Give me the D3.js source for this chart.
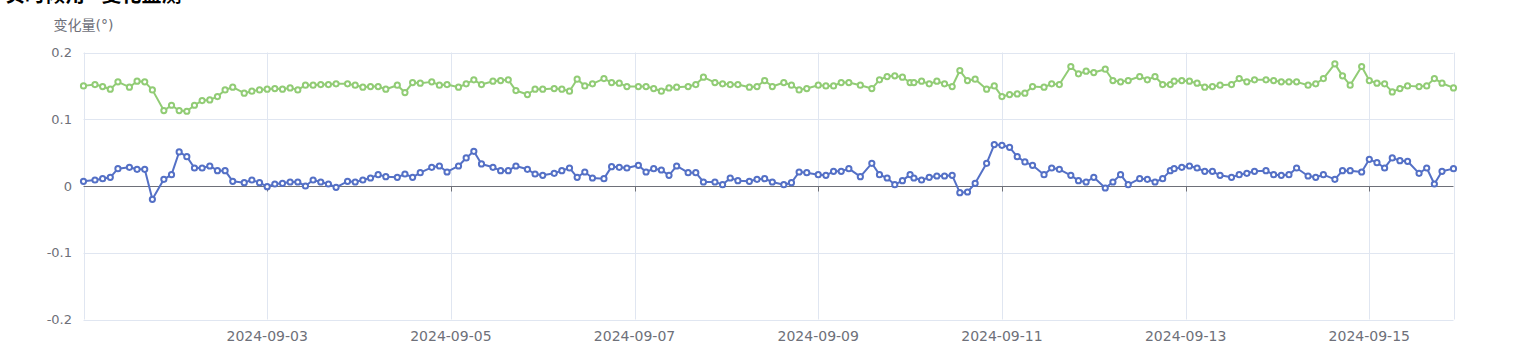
<!DOCTYPE html>
<html><head><meta charset="utf-8">
<script src="https://cdn.jsdelivr.net/npm/d3@7/dist/d3.min.js"></script>
<style>html,body{margin:0;padding:0;background:#fff;overflow:hidden}</style>
</head><body><svg id="c" width="1513" height="351"></svg>
<script>
const times = [
"2024-09-01 00:00","2024-09-01 03:00","2024-09-01 05:00","2024-09-01 07:00","2024-09-01 09:00","2024-09-01 12:00","2024-09-01 14:00","2024-09-01 16:00","2024-09-01 18:00","2024-09-01 21:00","2024-09-01 23:00","2024-09-02 01:00","2024-09-02 03:00","2024-09-02 05:00","2024-09-02 07:00","2024-09-02 09:00","2024-09-02 11:00","2024-09-02 13:00","2024-09-02 15:00","2024-09-02 18:00","2024-09-02 20:00","2024-09-02 22:00","2024-09-03 00:00","2024-09-03 02:00",
"2024-09-03 04:00","2024-09-03 06:00","2024-09-03 08:00","2024-09-03 10:00","2024-09-03 12:00","2024-09-03 14:00","2024-09-03 16:00","2024-09-03 18:00","2024-09-03 21:00","2024-09-03 23:00","2024-09-04 01:00","2024-09-04 03:00","2024-09-04 05:00","2024-09-04 07:00","2024-09-04 10:00","2024-09-04 12:00","2024-09-04 14:00","2024-09-04 16:00","2024-09-04 19:00","2024-09-04 21:00","2024-09-04 23:00","2024-09-05 02:00","2024-09-05 04:00",
"2024-09-05 06:00","2024-09-05 08:00","2024-09-05 11:00","2024-09-05 13:00","2024-09-05 15:00","2024-09-05 17:00","2024-09-05 20:00","2024-09-05 22:00","2024-09-06 00:00","2024-09-06 03:00","2024-09-06 05:00","2024-09-06 07:00","2024-09-06 09:00","2024-09-06 11:00","2024-09-06 13:00","2024-09-06 16:00","2024-09-06 18:00","2024-09-06 20:00","2024-09-06 22:00","2024-09-07 01:00","2024-09-07 03:00","2024-09-07 05:00","2024-09-07 07:00",
"2024-09-07 09:00","2024-09-07 11:00","2024-09-07 14:00","2024-09-07 16:00","2024-09-07 18:00","2024-09-07 21:00","2024-09-07 23:00","2024-09-08 01:00","2024-09-08 03:00","2024-09-08 06:00","2024-09-08 08:00","2024-09-08 10:00","2024-09-08 12:00","2024-09-08 15:00","2024-09-08 17:00","2024-09-08 19:00","2024-09-08 21:00","2024-09-09 00:00","2024-09-09 02:00","2024-09-09 04:00","2024-09-09 06:00","2024-09-09 08:00","2024-09-09 11:00",
"2024-09-09 14:00","2024-09-09 16:00","2024-09-09 18:00","2024-09-09 20:00","2024-09-09 22:00","2024-09-10 00:00","2024-09-10 01:00","2024-09-10 03:00","2024-09-10 05:00","2024-09-10 07:00","2024-09-10 09:00","2024-09-10 11:00","2024-09-10 13:00","2024-09-10 15:00","2024-09-10 17:00","2024-09-10 20:00","2024-09-10 22:00","2024-09-11 00:00","2024-09-11 02:00","2024-09-11 04:00","2024-09-11 06:00","2024-09-11 08:00","2024-09-11 11:00","2024-09-11 13:00",
"2024-09-11 15:00","2024-09-11 18:00","2024-09-11 20:00","2024-09-11 22:00","2024-09-12 00:00","2024-09-12 03:00","2024-09-12 05:00","2024-09-12 07:00","2024-09-12 09:00","2024-09-12 12:00","2024-09-12 14:00","2024-09-12 16:00","2024-09-12 18:00","2024-09-12 20:00","2024-09-12 21:00","2024-09-12 23:00","2024-09-13 01:00","2024-09-13 03:00","2024-09-13 05:00","2024-09-13 07:00","2024-09-13 09:00","2024-09-13 12:00","2024-09-13 14:00","2024-09-13 16:00",
"2024-09-13 18:00","2024-09-13 21:00","2024-09-13 23:00","2024-09-14 01:00","2024-09-14 03:00","2024-09-14 05:00","2024-09-14 08:00","2024-09-14 10:00","2024-09-14 12:00","2024-09-14 15:00","2024-09-14 17:00","2024-09-14 19:00","2024-09-14 22:00","2024-09-15 00:00","2024-09-15 02:00","2024-09-15 04:00","2024-09-15 06:00","2024-09-15 08:00","2024-09-15 10:00","2024-09-15 13:00","2024-09-15 15:00","2024-09-15 17:00","2024-09-15 19:00","2024-09-15 22:00"
];
const greenValues = [
0.150,0.152,0.149,0.145,0.156,0.148,0.157,0.156,0.144,0.113,0.121,0.113,0.112,0.121,0.128,0.129,0.134,0.144,0.148,0.139,0.142,0.144,0.145,0.146,
0.145,0.147,0.144,0.151,0.151,0.152,0.152,0.153,0.153,0.151,0.148,0.149,0.149,0.145,0.151,0.140,0.155,0.154,0.156,0.151,0.152,0.148,0.153,
0.159,0.152,0.157,0.158,0.159,0.143,0.137,0.145,0.145,0.146,0.145,0.142,0.160,0.150,0.153,0.161,0.155,0.154,0.149,0.149,0.149,0.146,0.142,
0.147,0.148,0.149,0.152,0.163,0.155,0.153,0.152,0.152,0.148,0.149,0.158,0.149,0.155,0.151,0.144,0.146,0.151,0.150,0.150,0.155,0.155,0.151,
0.146,0.159,0.164,0.165,0.163,0.155,0.155,0.157,0.153,0.157,0.153,0.149,0.173,0.158,0.160,0.145,0.150,0.134,0.137,0.138,0.139,0.149,0.148,0.153,
0.152,0.179,0.168,0.172,0.170,0.175,0.158,0.156,0.158,0.164,0.159,0.164,0.152,0.152,0.157,0.158,0.157,0.154,0.148,0.149,0.151,0.152,0.161,0.156,
0.159,0.159,0.158,0.156,0.156,0.156,0.151,0.153,0.161,0.183,0.165,0.151,0.179,0.158,0.154,0.153,0.141,0.146,0.150,0.149,0.150,0.161,0.154,0.147
];
const blueValues = [
0.007,0.009,0.011,0.013,0.026,0.028,0.025,0.025,-0.020,0.010,0.017,0.051,0.044,0.027,0.027,0.030,0.023,0.023,0.007,0.005,0.009,0.005,-0.001,0.003,
0.004,0.006,0.006,0.000,0.009,0.006,0.003,-0.002,0.007,0.006,0.009,0.012,0.017,0.014,0.013,0.018,0.013,0.020,0.028,0.030,0.021,0.030,0.042,
0.052,0.033,0.028,0.023,0.023,0.030,0.025,0.018,0.016,0.019,0.023,0.027,0.013,0.021,0.012,0.011,0.029,0.028,0.027,0.031,0.021,0.026,0.024,
0.016,0.030,0.020,0.020,0.006,0.006,0.002,0.012,0.008,0.007,0.010,0.011,0.006,0.002,0.005,0.021,0.020,0.017,0.016,0.022,0.022,0.026,0.014,
0.034,0.017,0.012,0.002,0.008,0.017,0.012,0.009,0.013,0.015,0.015,0.016,-0.010,-0.009,0.004,0.034,0.062,0.061,0.058,0.044,0.036,0.031,0.017,0.027,
0.025,0.016,0.008,0.006,0.013,-0.003,0.006,0.017,0.002,0.011,0.010,0.006,0.011,0.023,0.026,0.028,0.030,0.027,0.022,0.022,0.016,0.013,0.017,0.019,
0.022,0.023,0.017,0.016,0.017,0.027,0.015,0.013,0.017,0.010,0.023,0.023,0.021,0.040,0.035,0.027,0.042,0.038,0.037,0.019,0.027,0.003,0.022,0.026
];
const yTicks = [-0.2, -0.1, 0, 0.1, 0.2];
const yTickLabels = ["-0.2", "-0.1", "0", "0.1", "0.2"];
const xTickLabels = ["2024-09-03","2024-09-05","2024-09-07","2024-09-09","2024-09-11","2024-09-13","2024-09-15"];
const titleText = "实时倾角 - 变化监测";
const yAxisName = "变化量(°)";

const parse = d3.timeParse("%Y-%m-%d %H:%M");
const dates = times.map(parse);
const svg = d3.select("#c");
const L = 83.5, R = 1453.5, T = 52.5, B = 319.5;
const x = d3.scaleTime().domain(d3.extent(dates)).range([L, R]);
const y = d3.scaleLinear().domain([-0.2, 0.2]).range([B, T]);
const tickDates = xTickLabels.map(s => parse(s + " 00:00"));
const labelFont = "'DejaVu Sans','Noto Sans CJK SC',sans-serif";
const gridColor = "#E0E6F1";
const axisColor = "#6E7079";

// title (partially clipped at top)
svg.append("text").attr("x", 5).attr("y", 2).attr("font-size", 20).attr("font-weight", "bold")
  .attr("font-family", "'Noto Sans CJK SC',sans-serif").attr("fill", "#000").text(titleText);

// horizontal grid
svg.append("g").selectAll("line").data(yTicks.filter(v => v !== 0)).join("line")
  .attr("x1", L).attr("x2", R).attr("y1", d => Math.round(y(d)) + 0.5).attr("y2", d => Math.round(y(d)) + 0.5)
  .attr("stroke", gridColor).attr("stroke-width", 1);
// vertical grid incl. edges
const vLines = [x.domain()[0], ...tickDates, x.domain()[1]];
svg.append("g").selectAll("line").data(vLines).join("line")
  .attr("x1", d => Math.round(x(d)) + 0.5).attr("x2", d => Math.round(x(d)) + 0.5)
  .attr("y1", T).attr("y2", B)
  .attr("stroke", gridColor).attr("stroke-width", 1);

// y labels
svg.append("g").selectAll("text").data(yTicks).join("text")
  .attr("x", 72).attr("y", d => y(d)).attr("dy", "0.36em").attr("text-anchor", "end")
  .attr("font-size", 13).attr("font-family", labelFont).attr("fill", axisColor)
  .text((d, i) => yTickLabels[i]);
// y axis name
svg.append("text").attr("x", L).attr("y", 30).attr("text-anchor", "middle")
  .attr("font-size", 14).attr("font-family", labelFont).attr("fill", axisColor).text(yAxisName);

// x axis line at zero
const y0 = Math.round(y(0)) + 0.5;
svg.append("line").attr("x1", L).attr("x2", R).attr("y1", y0).attr("y2", y0)
  .attr("stroke", axisColor).attr("stroke-width", 1);
svg.append("g").selectAll("line").data(tickDates).join("line")
  .attr("x1", d => Math.round(x(d)) + 0.5).attr("x2", d => Math.round(x(d)) + 0.5)
  .attr("y1", y0).attr("y2", y0 + 5).attr("stroke", axisColor).attr("stroke-width", 1);
// x labels
svg.append("g").selectAll("text").data(tickDates).join("text")
  .attr("x", d => x(d)).attr("y", 341).attr("text-anchor", "middle")
  .attr("font-size", 14).attr("font-family", labelFont).attr("fill", axisColor)
  .text((d, i) => xTickLabels[i]);

// series
const series = [
  { values: greenValues, color: "#91cc75" },
  { values: blueValues, color: "#5470c6" }
];
const line = d3.line().x(d => x(d[0])).y(d => y(d[1]));
series.forEach(s => {
  const pts = dates.map((d, i) => [d, s.values[i]]);
  svg.append("path").datum(pts).attr("d", line).attr("fill", "none")
    .attr("stroke", s.color).attr("stroke-width", 2).attr("stroke-linejoin", "bevel");
  svg.append("g").selectAll("circle").data(pts).join("circle")
    .attr("cx", d => x(d[0])).attr("cy", d => y(d[1])).attr("r", 2.6)
    .attr("fill", "#fff").attr("stroke", s.color).attr("stroke-width", 2);
});
</script>
</body></html>
